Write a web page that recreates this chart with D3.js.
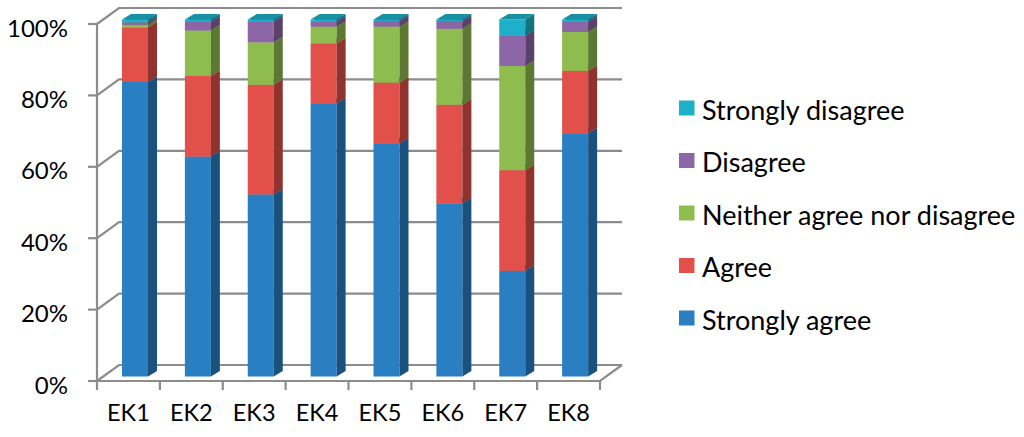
<!DOCTYPE html>
<html>
<head>
<meta charset="UTF-8">
<title></title>
<script src="https://d3js.org/d3.v7.min.js"></script>
<style>
  html, body { margin: 0; padding: 0; background: #fff; }
  text { font-family: Lato, "Open Sans", sans-serif; fill: #000; }
</style>
</head>
<body>
<div id="chart"></div>
<script>
// data (percent of answers)
const categories = ["EK1", "EK2", "EK3", "EK4", "EK5", "EK6", "EK7", "EK8"];
const seriesNames = ["Strongly agree", "Agree", "Neither agree nor disagree", "Disagree", "Strongly disagree"];
const stronglyAgree    = [82.5, 61.6, 51.0, 76.5, 65.3, 48.5, 29.6, 68.1];
const agree            = [15.3, 22.6, 30.7, 16.8, 17.0, 27.6, 28.2, 17.5];
const neither          = [0.7, 12.7, 11.9, 4.7, 15.7, 21.3, 29.2, 10.9];
const disagree         = [0.7, 2.5, 5.8, 1.4, 1.6, 2.2, 8.5, 2.9];
const stronglyDisagree = [0.8, 0.6, 0.6, 0.6, 0.4, 0.4, 4.5, 0.6];
const yTicks = [0, 20, 40, 60, 80, 100];
const colors = ["#2a7fc3", "#e1504a", "#8fbc4f", "#8c66a6", "#1eb0c8"];

const seriesValues = [stronglyAgree, agree, neither, disagree, stronglyDisagree];

const W = 1024, H = 437;
const svg = d3.select("#chart").append("svg").attr("width", W).attr("height", H);

// 3d walls: front plane and back plane offset
const depth = { dx: 22, dy: -16 };
const x = d3.scaleBand().domain(categories).range([97, 600]).padding(0);
const yFront = d3.scaleLinear().domain([0, 100]).range([381, 24]);
// bars sit a little inside the depth
const barOff = { dx: 6, dy: -4.5 }, barDepth = { dx: 9, dy: -5.5 };
const barW = 26;

const grid = svg.append("g").attr("stroke", "#8c8c8c").attr("stroke-width", 2.2).attr("fill", "none");

// gridlines on back wall + side wall diagonals
yTicks.forEach(t => {
  const yf = yFront(t);
  grid.append("path").attr("d", `M${x.range()[0]},${yf}L${x.range()[0] + depth.dx},${yf + depth.dy}L${x.range()[1] + depth.dx},${yf + depth.dy}`);
  grid.append("line").attr("x1", x.range()[0] - 9).attr("x2", x.range()[0]).attr("y1", yf).attr("y2", yf);
});
// floor
const y0 = yFront(0);
grid.append("path").attr("d", `M${x.range()[0]},${y0}L${x.range()[1]},${y0}L${x.range()[1] + depth.dx},${y0 + depth.dy}`);
// front vertical axis
grid.append("line").attr("x1", x.range()[0]).attr("x2", x.range()[0]).attr("y1", yFront(100)).attr("y2", y0);
// x ticks
d3.range(categories.length + 1).forEach(i => {
  const xt = x.range()[0] + i * x.bandwidth();
  grid.append("line").attr("x1", xt).attr("x2", xt).attr("y1", y0).attr("y2", y0 + 9);
});

// y labels
svg.append("g").selectAll("text").data(yTicks).join("text")
  .attr("x", 68).attr("y", d => yFront(d) + 3)
  .attr("text-anchor", "end").attr("dominant-baseline", "central")
  .style("font-size", "24px")
  .text(d => d + "%");

// category labels
svg.append("g").selectAll("text").data(categories).join("text")
  .attr("x", d => x(d) + x.bandwidth() / 2).attr("y", 412)
  .attr("text-anchor", "middle").attr("dominant-baseline", "central")
  .style("font-size", "23.5px")
  .text(d => d);

// stacked 3d bars
const table = categories.map((c, i) => {
  const row = { cat: c };
  seriesNames.forEach((s, j) => row[s] = seriesValues[j][i]);
  return row;
});
const stack = d3.stack().keys(seriesNames)(table);

const bars = svg.append("g");
categories.forEach((c, i) => {
  const bx0 = x(c) + 19 + barOff.dx, bx1 = bx0 + barW;
  stack.forEach((layer, j) => {
    const [v0, v1] = layer[i];
    const ya = yFront(v0) + barOff.dy, yb = yFront(v1) + barOff.dy;
    const col = d3.color(colors[j]);
    const g = bars.append("g");
    g.append("rect").attr("x", bx0).attr("y", yb).attr("width", barW).attr("height", ya - yb).attr("fill", col);
    g.append("path")
      .attr("d", `M${bx1},${ya}L${bx1 + barDepth.dx},${ya + barDepth.dy}L${bx1 + barDepth.dx},${yb + barDepth.dy}L${bx1},${yb}Z`)
      .attr("fill", col.darker(1.25));
    g.append("path")
      .attr("d", `M${bx0},${yb}L${bx0 + barDepth.dx},${yb + barDepth.dy}L${bx1 + barDepth.dx},${yb + barDepth.dy}L${bx1},${yb}Z`)
      .attr("fill", col.darker(0.55));
  });
});

// legend, drawn top-down in reverse order
const legend = svg.append("g").selectAll("g").data(seriesNames.slice().reverse()).join("g")
  .attr("transform", (d, i) => `translate(679,${108 + i * 52.5})`);
legend.append("rect").attr("x", 0).attr("y", -7.5).attr("width", 15.5).attr("height", 15)
  .attr("fill", d => colors[seriesNames.indexOf(d)]);
legend.append("text").attr("x", 23).attr("y", 1).attr("dominant-baseline", "central")
  .style("font-size", "27px").text(d => d);
</script>
</body>
</html>
